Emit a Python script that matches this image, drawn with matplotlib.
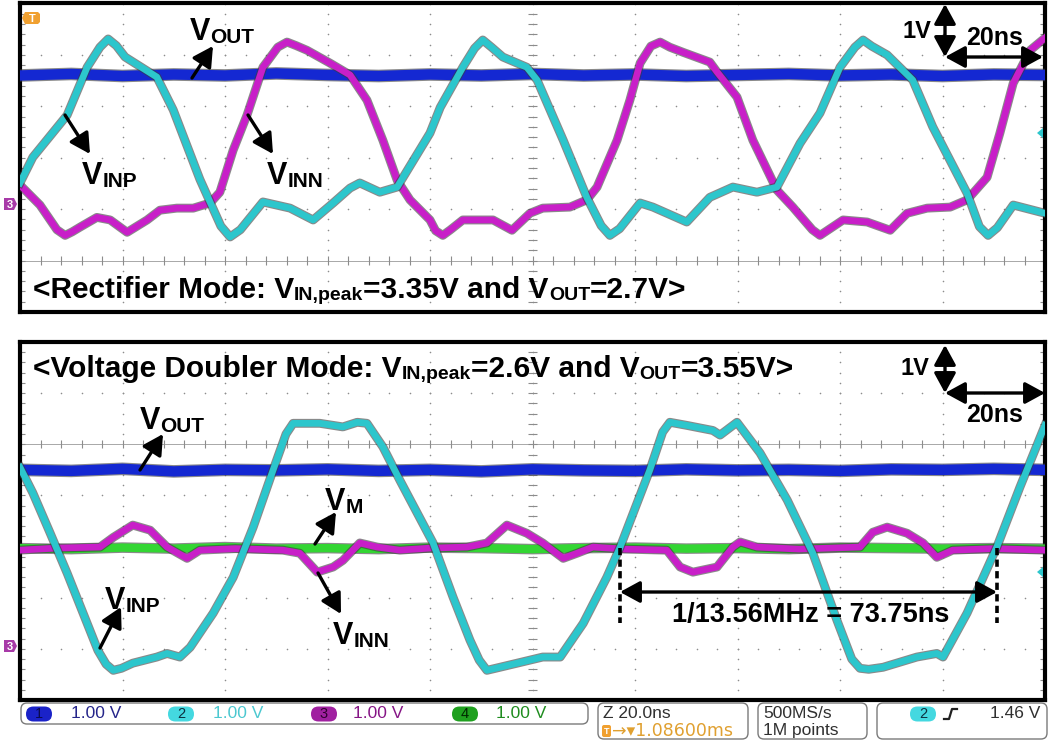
import matplotlib
matplotlib.use('Agg')
import matplotlib.pyplot as plt
import numpy as np
from matplotlib import patheffects as pe
from matplotlib.patches import FancyBboxPatch, Polygon

plt.rcParams['font.family'] = ['Liberation Sans', 'DejaVu Sans']

# ---------------- data (time in ns, voltage in V) ----------------
# Top panel: rectifier mode
top_cyan_t = [0.0, 2.5, 9.2, 13.1, 15.6, 17.2, 18.8, 20.5, 26.7, 29.9, 35.1, 39.2, 41.0, 43.0, 47.4, 52.7, 57.2,
              61.1, 64.4, 66.3, 70.2, 73.6, 80.0, 82.0, 86.4, 88.7, 90.3, 92.0, 94.2, 98.9, 100.9, 106.0,
              110.6, 113.4, 115.1, 117.0, 121.0, 123.5, 130.1, 134.6, 139.1, 143.8, 147.7, 152.2, 156.1,
              160.0, 162.9, 164.5, 166.2, 169.2, 174.2, 178.1, 184.8, 187.2, 188.9, 190.7, 193.8, 200.0]
top_cyan_v = [0.51, 1.01, 1.83, 2.76, 3.15, 3.31, 3.18, 2.96, 2.57, 1.93, 0.58, -0.33, -0.54, -0.40, 0.14, 0.02,
              -0.21, 0.12, 0.41, 0.51, 0.33, 0.43, 1.48, 1.98, 2.76, 3.13, 3.29, 3.15, 2.96, 2.76, 2.51, 1.34,
              0.23, -0.32, -0.51, -0.38, 0.12, 0.04, -0.25, 0.23, 0.43, 0.33, 0.43, 1.28, 1.87,
              2.76, 3.15, 3.29, 3.17, 3.00, 2.51, 1.60, 0.31, -0.34, -0.51, -0.36, 0.08, -0.08]
top_mag_t = [0.0, 3.9, 7.2, 8.8, 10.2, 11.7, 15.0, 17.6, 20.9, 24.8, 27.3, 30.6, 33.8, 37.1, 39.0, 41.6, 44.3,
             47.4, 50.3, 52.1, 53.9, 56.0, 60.5, 64.4, 67.7, 70.8, 73.6, 76.1, 80.0, 81.1, 82.5, 84.0, 86.4,
             92.3, 96.0, 99.5, 102.0, 107.3, 110.6, 112.6, 116.5, 119.0, 121.0, 123.1, 124.9, 126.8, 129.4,
             134.6, 136.0, 139.9, 143.0, 147.7, 150.8, 154.6, 156.1, 157.6, 160.6, 165.3, 169.8, 173.1, 177.0,
             181.5, 184.8, 188.7, 191.2, 193.8, 197.1, 200.0]
top_mag_v = [0.47, 0.08, -0.40, -0.51, -0.44, -0.35, -0.16, -0.21, -0.45, -0.21, -0.02, 0.02, 0.02, 0.12, 0.33,
             1.15, 1.83, 2.76, 3.15, 3.25, 3.18, 3.09, 2.84, 2.61, 2.12, 1.34, 0.56, 0.18, -0.21, -0.42, -0.51,
             -0.40, -0.21, -0.21, -0.41, -0.08, 0.02, 0.04, 0.18, 0.43, 1.34, 2.12, 2.84, 3.17, 3.25, 3.15,
             3.05, 2.86, 2.67, 2.18, 1.34, 0.37, 0.04, -0.40, -0.51, -0.41, -0.21, -0.25, -0.41, -0.08, 0.02,
             0.04, 0.18, 0.62, 1.48, 2.45, 3.09, 3.33]
top_vout_t = [0, 10, 20, 30, 40, 50, 60, 70, 80, 90, 100, 110, 120, 130, 140, 150, 160, 170, 180, 190, 200]
top_vout_v = [2.60, 2.63, 2.59, 2.62, 2.60, 2.64, 2.61, 2.59, 2.62, 2.60, 2.63, 2.60, 2.62, 2.59, 2.61,
              2.63, 2.60, 2.62, 2.59, 2.62, 2.61]

# Bottom panel: voltage doubler mode
bot_cyan_t = [0.0, 2.5, 5.9, 9.2, 12.3, 15.2, 16.8, 18.2, 19.8, 22.0, 26.7, 28.7, 31.2, 33.2, 37.7, 41.6, 45.5,
              49.4, 51.9, 53.3, 58.5, 63.0, 65.8, 67.7, 70.8, 74.1, 80.6, 84.5, 87.8, 89.6, 91.1, 92.8, 97.0,
              102.0, 105.4, 109.9, 114.5, 117.1, 122.9, 125.4, 126.8, 130.1, 135.2, 136.6, 139.9, 144.4,
              149.7, 154.7, 159.4, 162.3, 163.9, 165.6, 168.4, 175.0, 178.9, 180.1, 184.8, 190.6, 195.1, 200.0]
bot_cyan_v = [3.55, 3.05, 2.26, 1.48, 0.70, -0.03, -0.30, -0.42, -0.38, -0.28, -0.16, -0.09, -0.16, 0.03, 0.70,
              1.40, 2.38, 3.50, 4.20, 4.41, 4.41, 4.34, 4.43, 4.41, 3.95, 3.30, 2.07, 1.01, 0.17, -0.22, -0.42,
              -0.38, -0.28, -0.16, -0.16, 0.50, 1.40, 1.99, 3.50, 4.24, 4.43, 4.37, 4.27, 4.18, 4.43, 3.83,
              2.91, 1.87, 0.56, -0.20, -0.38, -0.40, -0.36, -0.16, -0.09, -0.16, 0.70, 1.99, 3.16, 4.37]
bot_mag_t = [0.0, 7.0, 15.6, 18.2, 22.0, 25.4, 28.7, 32.6, 35.1, 42.0, 51.3, 54.6, 58.0, 61.1, 63.0, 66.3, 69.7,
             74.1, 80.0, 87.2, 91.1, 95.0, 98.9, 102.0, 106.0, 108.7, 111.8, 118.0, 126.2, 128.8, 131.3, 136.0,
             139.1, 140.5, 143.8, 152.0, 163.9, 166.4, 169.2, 173.1, 176.2, 178.9, 182.0, 190.0, 200.0]
bot_mag_v = [1.93, 1.97, 1.99, 2.18, 2.42, 2.32, 1.99, 1.77, 1.93, 1.96, 1.93, 1.87, 1.50, 1.60, 1.73, 2.07, 1.99,
             1.93, 1.97, 1.99, 2.07, 2.42, 2.26, 2.07, 1.77, 1.87, 1.99, 1.95, 1.93, 1.60, 1.50, 1.60,
             1.99, 2.09, 1.99, 1.95, 1.99, 2.28, 2.38, 2.26, 2.07, 1.79, 1.93, 1.96, 1.93]
bot_vm_t = [0, 10, 20, 30, 40, 50, 60, 70, 80, 90, 100, 110, 120, 130, 140, 150, 160, 170, 180, 190, 200]
bot_vm_v = [1.97, 1.95, 1.98, 1.96, 1.99, 1.96, 1.97, 1.95, 1.98, 1.97, 1.95, 1.97, 1.98, 1.96, 1.97,
            1.95, 1.98, 1.97, 1.96, 1.97, 1.96]
bot_vout_t = [0, 10, 20, 30, 40, 50, 60, 70, 80, 90, 100, 110, 120, 130, 140, 150, 160, 170, 180, 190, 200]
bot_vout_v = [3.50, 3.48, 3.52, 3.47, 3.50, 3.49, 3.51, 3.48, 3.50, 3.47, 3.51, 3.49, 3.48, 3.51, 3.49,
              3.50, 3.48, 3.51, 3.50, 3.52, 3.50]

# status bar
chan_labels = ['1', '2', '3', '4']
chan_scale = ['1.00 V', '1.00 V', '1.00 V', '1.00 V']

# ---------------- layout ----------------
W, H = 1050, 743
fig = plt.figure(figsize=(W / 100, H / 100), dpi=100)
fig.patch.set_facecolor('white')

C_CYAN = '#2cc6cc'
C_MAG = '#c81fc8'
C_BLUE = '#1428d2'
C_GREEN = '#33d633'


def make_panel(y_top, y_bot, vmin, vmax, vcenter):
    ax = fig.add_axes([20 / W, 1 - y_bot / H, 1025 / W, (y_bot - y_top) / H])
    ax.set_xlim(0, 200)
    ax.set_ylim(vmin, vmax)
    ax.set_xticks([])
    ax.set_yticks([])
    for s in ax.spines.values():
        s.set_linewidth(3.0)
        s.set_color('black')
    dv = np.arange(vmin, vmax + 1e-9, 0.2)
    dt = np.arange(0, 200.01, 4)
    for t in range(20, 200, 20):
        ax.scatter(np.full_like(dv, t), dv, s=1.3, c='#8c8c8c', lw=0, zorder=1)
    for v in range(int(vmin) + 1, int(vmax)):
        if v == vcenter:
            continue
        ax.scatter(dt, np.full_like(dt, float(v)), s=1.3, c='#8c8c8c', lw=0, zorder=1)
    ax.axhline(vcenter, color='#a8a8a8', lw=0.7, zorder=1)
    ax.vlines(dt, vcenter - 0.08, vcenter + 0.08, color='#8c8c8c', lw=0.8, zorder=1)
    ax.hlines(dv, 100 - 0.8, 100 + 0.8, color='#8c8c8c', lw=0.8, zorder=1)
    ax.hlines(dv, 0, 0.9, color='#8c8c8c', lw=0.8, zorder=1)
    ax.hlines(dv, 199.1, 200, color='#8c8c8c', lw=0.8, zorder=1)
    return ax


def trace(ax, t, v, color, lw, z):
    ax.plot(t, v, color=color, lw=lw, zorder=z, solid_joinstyle='round',
            path_effects=[pe.Stroke(linewidth=lw + 1.6, foreground='#3c3c3c', alpha=0.6), pe.Normal()])


ax1 = make_panel(3.5, 312, -2, 4, -1)
ax2 = make_panel(342, 700, -1, 6, 4)

trace(ax1, top_vout_t, top_vout_v, C_BLUE, 7.5, 3)
trace(ax1, top_mag_t, top_mag_v, C_MAG, 4.8, 5)
trace(ax1, top_cyan_t, top_cyan_v, C_CYAN, 4.8, 6)

trace(ax2, bot_vout_t, bot_vout_v, C_BLUE, 7.5, 3)
trace(ax2, bot_vm_t, bot_vm_v, C_GREEN, 6.0, 4)
trace(ax2, bot_mag_t, bot_mag_v, C_MAG, 4.8, 5)
trace(ax2, bot_cyan_t, bot_cyan_v, C_CYAN, 4.8, 6)

# ---------------- overlay in pixel coordinates ----------------
ov = fig.add_axes([0, 0, 1, 1])
ov.set_xlim(0, W)
ov.set_ylim(H, 0)
ov.axis('off')
ov.set_zorder(10)


def rich(x, y, parts, size, subsize, drop=0.0):
    first = ov.text(x, y, parts[0], fontsize=size, fontweight='bold', va='baseline', ha='left')
    prev = first
    sub = False
    for p in parts[1:]:
        sub = not sub
        if sub:
            prev = ov.annotate(p, xy=(1, 0), xycoords=(prev, first), xytext=(0, -drop),
                               textcoords='offset points', fontsize=subsize, fontweight='bold',
                               va='bottom', ha='left')
        else:
            prev = ov.annotate(p, xy=(1, 0), xycoords=(prev, first), fontsize=size,
                               fontweight='bold', va='bottom', ha='left')


def arrow(tail, head, style='-|>'):
    ov.annotate('', xy=head, xytext=tail,
                arrowprops=dict(arrowstyle=style + ',head_length=0.55,head_width=0.3', color='black',
                                lw=2.4, shrinkA=0, shrinkB=0, mutation_scale=22))


# top panel labels
rich(190, 40, ['V', 'OUT'], 22, 15)
arrow((192, 78), (213, 46))
rich(82, 184, ['V', 'INP'], 22, 15)
arrow((65, 115), (90, 154))
rich(267, 184, ['V', 'INN'], 22, 15)
arrow((248, 115), (273, 154))
rich(33, 298, ['<Rectifier Mode: V', 'IN,peak', '=3.35V and V', 'OUT', '=2.7V>'], 21.5, 14)
ov.text(902, 38, '1V', fontsize=17, fontweight='bold', va='baseline', ha='left')
ov.text(966, 45, '20ns', fontsize=18, fontweight='bold', va='baseline', ha='left')
arrow((945, 57), (945, 4), '<|-|>')
arrow((945, 57), (1043, 57), '<|-|>')

# bottom panel labels
rich(33, 377, ['<Voltage Doubler Mode: V', 'IN,peak', '=2.6V and V', 'OUT', '=3.55V>'], 21.5, 14)
ov.text(900, 375, '1V', fontsize=17, fontweight='bold', va='baseline', ha='left')
ov.text(966, 422, '20ns', fontsize=18, fontweight='bold', va='baseline', ha='left')
arrow((945, 393), (945, 345), '<|-|>')
arrow((945, 393), (1045, 393), '<|-|>')
rich(140, 429, ['V', 'OUT'], 22, 15)
arrow((140, 470), (163, 434))
rich(105, 609, ['V', 'INP'], 22, 15)
arrow((100, 648), (121, 607))
rich(325, 510, ['V', 'M'], 22, 15)
arrow((315, 544), (336, 512))
rich(333, 644, ['V', 'INN'], 22, 15)
arrow((318, 573), (341, 614))
ov.plot([620, 620], [548, 623], color='black', lw=2.6, dashes=(2.0, 1.2))
ov.plot([997, 997], [548, 623], color='black', lw=2.6, dashes=(2.0, 1.2))
arrow((620, 592), (997, 592), '<|-|>')
ov.text(672, 622, '1/13.56MHz = 73.75ns', fontsize=19.5, fontweight='bold', va='baseline', ha='left')

# scope markers
ov.add_patch(Polygon([[25, 12], [38, 12], [40, 14], [40, 22], [38, 24], [25, 24], [22, 18]], closed=True,
                     fc='#f0a030', ec='none'))
ov.text(32, 18.5, 'T', fontsize=8, fontweight='bold', color='white', ha='center', va='center')
for yy in (204, 646):
    ov.add_patch(Polygon([[4, yy - 6], [14, yy - 6], [17, yy], [14, yy + 6], [4, yy + 6]], closed=True,
                         fc='#a83aa8', ec='none'))
    ov.text(10, yy + 0.5, '3', fontsize=8, fontweight='bold', color='#ffffff', ha='center', va='center')
for yy in (133, 572):
    ov.add_patch(Polygon([[1037, yy], [1043, yy - 5], [1043, yy + 5]], closed=True, fc=C_CYAN, ec='none'))


# status bar
def box(x0, y0, x1, y1, r=6):
    ov.add_patch(FancyBboxPatch((x0, y0), x1 - x0, y1 - y0, boxstyle='round,pad=0,rounding_size=%g' % r,
                                fc='white', ec='#7a7a7a', lw=1.0))


box(21, 703, 588, 724)
box(598, 703, 748, 739)
box(758, 703, 867, 739)
box(877, 703, 1047, 739)

chan_fc = ['#1a22c8', '#44d8e0', '#a020a0', '#1fa01f']
chan_num_c = ['#0a0a50', '#0c3040', '#300030', '#002800']
chan_txt_c = ['#25258a', '#4cc8d0', '#861686', '#1f8c1f']
chan_x = [26, 168, 311, 452]
chan_tx = [71, 213, 353, 496]


def oval(x0, yc, fc, label, tc):
    ov.add_patch(FancyBboxPatch((x0, yc - 7.5), 26, 15, boxstyle='round,pad=0,rounding_size=7.5', fc=fc,
                                ec='none'))
    ov.text(x0 + 13, yc + 0.5, label, fontsize=10.5, color=tc, ha='center', va='center')


for i in range(4):
    oval(chan_x[i], 714, chan_fc[i], chan_labels[i], chan_num_c[i])
    ov.text(chan_tx[i], 714, chan_scale[i], fontsize=12.5, color=chan_txt_c[i], ha='left', va='center')

ov.text(603, 714, 'Z 20.0ns', fontsize=12.5, color='#303030', ha='left', va='center')
ov.add_patch(FancyBboxPatch((602, 725), 9, 12, boxstyle='round,pad=0,rounding_size=2', fc='#f0a030', ec='none'))
ov.text(606.5, 731.5, 'T', fontsize=6.5, fontweight='bold', color='white', ha='center', va='center')
ov.text(612, 731, '→▾1.08600ms', fontsize=12.5, color='#e0a030', ha='left', va='center',
        family=['DejaVu Sans'])
ov.text(763, 714, '500MS/s', fontsize=12.5, color='#303030', ha='left', va='center')
ov.text(763, 731, '1M points', fontsize=12.5, color='#303030', ha='left', va='center')
oval(910, 714, '#44d8e0', '2', '#0c3040')
ov.plot([944, 949, 952, 957], [719, 719, 709, 709], color='#202020', lw=1.6)
ov.text(990, 714, '1.46 V', fontsize=12.5, color='#303030', ha='left', va='center')

fig.savefig('out.png', dpi=100, facecolor='white')
